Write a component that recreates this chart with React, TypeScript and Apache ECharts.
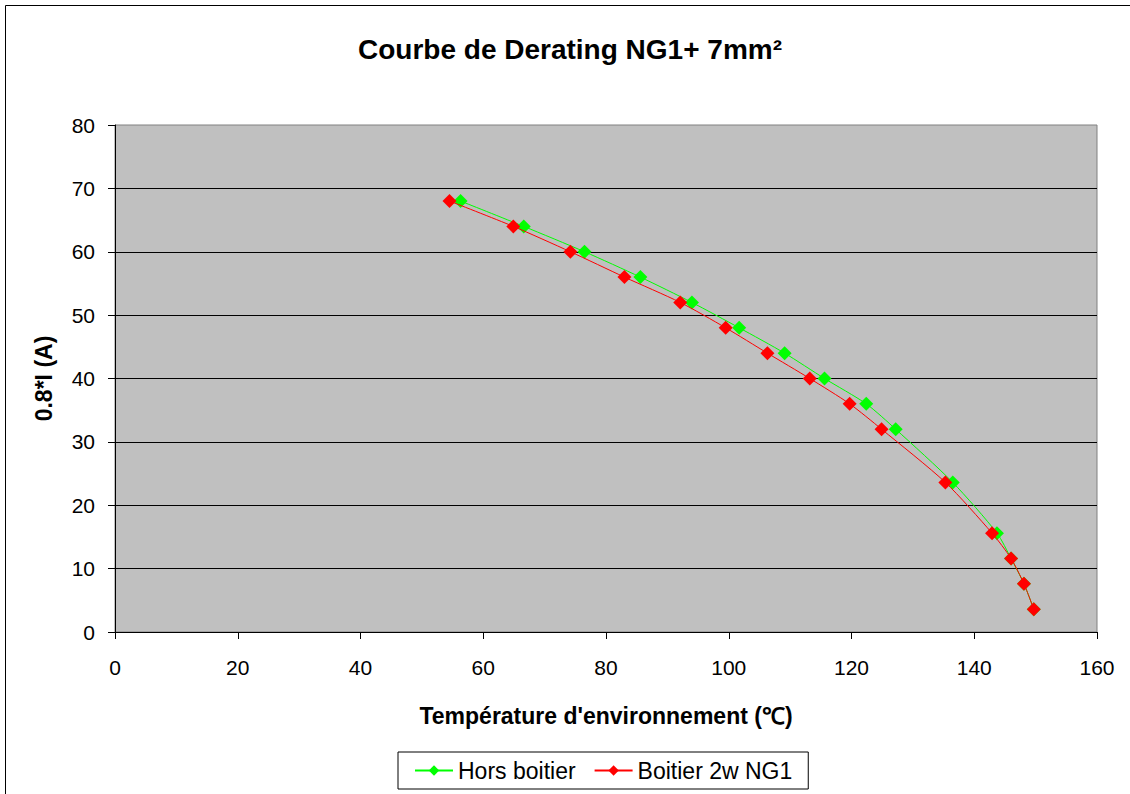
import React, { useEffect, useRef } from "react";
import * as echarts from "echarts";

const currentValues = [68, 64, 60, 56, 52, 48, 44, 40, 36, 32, 23.6, 15.6, 11.6, 7.6, 3.6];
const tempHorsBoitier = [56.3, 66.6, 76.5, 85.6, 94.0, 101.7, 109.1, 115.6, 122.4, 127.2, 136.5, 143.7, 146.0, 148.1, 149.7];
const tempBoitier2w = [54.5, 64.9, 74.2, 83.0, 92.1, 99.5, 106.3, 113.2, 119.7, 124.9, 135.3, 142.9, 146.0, 148.1, 149.7];
const seriesNames = ["Hors boitier", "Boitier 2w NG1"];
const seriesColors = ["#00FF00", "#FF0000"];

const FONT = "'Liberation Sans', Arial, sans-serif";

export default function App() {
  const ref = useRef<HTMLDivElement>(null);
  useEffect(() => {
    if (!ref.current) return;
    const chart = echarts.init(ref.current, null, { renderer: "svg" });
    const temps = [tempHorsBoitier, tempBoitier2w];
    chart.setOption({
      animation: false,
      backgroundColor: "#FFFFFF",
      textStyle: { fontFamily: FONT },
      title: {
        text: "Courbe de Derating NG1+ 7mm²",
        left: 565,
        top: 30,
        textAlign: "center",
        textStyle: { fontFamily: FONT, fontSize: 28, fontWeight: "bold", color: "#000" },
      },
      graphic: [
        {
          type: "rect",
          shape: { x: 5.5, y: 5.5, width: 1200, height: 900 },
          style: { fill: "none", stroke: "#000", lineWidth: 1 },
          silent: true,
          z: -1,
        },
      ],
      legend: {
        left: 398,
        top: 752,
        orient: "horizontal",
        backgroundColor: "#FFFFFF",
        borderColor: "#000",
        borderWidth: 1,
        borderRadius: 0,
        padding: [7, 16, 7, 16],
        itemGap: 18,
        itemWidth: 38,
        itemHeight: 13,
        textStyle: { fontFamily: FONT, fontSize: 23, color: "#000" },
        data: seriesNames,
      },
      grid: {
        left: 115,
        top: 125,
        right: 33,
        bottom: 162,
        show: true,
        backgroundColor: "#C0C0C0",
        borderColor: "#808080",
        borderWidth: 1,
      },
      xAxis: {
        type: "value",
        min: 0,
        max: 160,
        interval: 20,
        name: "Température d'environnement (℃)",
        nameLocation: "middle",
        nameGap: 72,
        nameTextStyle: { fontFamily: FONT, fontSize: 23, fontWeight: "bold", color: "#000" },
        axisLine: { show: true, onZero: false, lineStyle: { color: "#000", width: 1 } },
        axisTick: { show: true, inside: false, length: 7, lineStyle: { color: "#000" } },
        axisLabel: { fontFamily: FONT, fontSize: 21, color: "#000", margin: 25 },
        splitLine: { show: false },
      },
      yAxis: {
        type: "value",
        min: 0,
        max: 80,
        interval: 10,
        name: "0.8*I (A)",
        nameLocation: "middle",
        nameGap: 60,
        nameRotate: 90,
        nameTextStyle: { fontFamily: FONT, fontSize: 23, fontWeight: "bold", color: "#000" },
        axisLine: { show: true, onZero: false, lineStyle: { color: "#000", width: 1 } },
        axisTick: { show: true, inside: false, length: 7, lineStyle: { color: "#000" } },
        axisLabel: { fontFamily: FONT, fontSize: 21, color: "#000", margin: 20 },
        splitLine: { show: true, showMaxLine: false, showMinLine: false, lineStyle: { color: "#000", width: 1 } },
      },
      series: seriesNames.map((name, i) => ({
        name,
        type: "line",
        smooth: 0.25,
        symbol: "diamond",
        symbolSize: 14,
        z: 2 + i,
        lineStyle: { color: seriesColors[i], width: 1 },
        itemStyle: { color: seriesColors[i] },
        data: temps[i].map((t, k) => [t, currentValues[k]]),
      })),
    });
    return () => chart.dispose();
  }, []);
  return (
    <div
      ref={ref}
      style={{ position: "fixed", left: 0, top: 0, width: 1130, height: 794, background: "#fff" }}
    />
  );
}
